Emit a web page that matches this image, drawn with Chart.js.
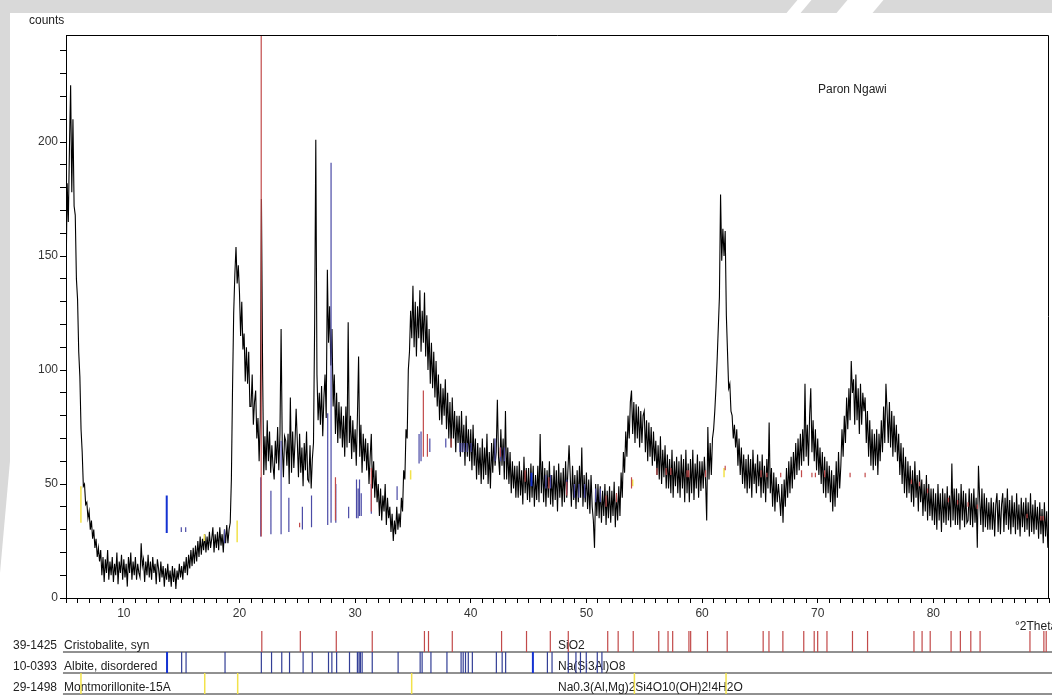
<!DOCTYPE html>
<html>
<head>
<meta charset="utf-8">
<script src="https://cdn.jsdelivr.net/npm/chart.js@4.4.1/dist/chart.umd.min.js"></script>
<style>
  html, body { margin: 0; padding: 0; background: #fff; }
  body { width: 1052px; height: 695px; position: relative; overflow: hidden; }
  .wm { position: absolute; background: #d9d9d9; }
  #wmTop { left: 0; top: 0; width: 1052px; height: 13px; }
  #wmLeft { left: 0; top: 13px; width: 10px; height: 560px; clip-path: polygon(0 0, 100% 0, 100% 80%, 0 100%); }
  .wmCut { position: absolute; top: 0; height: 13px; background: #fff; transform: skewX(-40deg); }
  #main { position: absolute; left: 0; top: 0; }
  #lanes { position: absolute; left: 0; top: 620px; }
</style>
</head>
<body>
<div class="wm" id="wmTop"></div>
<div class="wmCut" style="left:792px;width:14px"></div>
<div class="wmCut" style="left:842px;width:36px"></div>
<div class="wm" id="wmLeft"></div>
<canvas id="main" width="1052" height="622"></canvas>
<canvas id="lanes" width="1052" height="75"></canvas>
<script>
// XRD pattern, sample Paron Ngawi, 2theta 5..90 every 0.1 deg (one row per degree)
const sampleName = 'Paron Ngawi';
const START_2THETA = 5;
const STEP_2THETA = 0.1;
const counts = [
  138,182,165,198,225,178,210,172,168,140,
  131,108,97,74,64,49,50,41,42,35,
  38,30,34,26,30,22,26,18,22,16,
  21,10,18,7,17,11,21,8,16,10,
  18,7,15,10,20,6,16,11,19,8,
  17,9,15,5,18,11,20,8,16,10,
  18,8,15,11,9,24,14,17,7,16,
  10,19,9,16,8,18,11,15,6,17,
  13,7,16,9,14,5,13,8,15,7,
  12,5,14,7,13,4,12,8,15,9,
  14,8,16,11,18,10,19,13,21,14,
  22,15,23,16,25,18,27,19,26,21,
  28,20,27,21,29,22,26,31,20,28,
  22,29,21,31,23,28,20,30,24,32,
  24,30,33,52,92,125,142,154,138,146,
  134,115,130,109,116,95,110,94,108,84,
  84,98,76,86,91,70,79,60,78,175,
  100,54,71,56,78,60,73,55,67,58,
  52,69,59,75,56,72,118,67,53,71,
  69,58,72,50,88,55,73,57,68,83,
  69,53,72,55,66,49,68,56,73,52,
  51,67,48,61,68,120,201,98,78,90,
  76,93,71,88,98,79,144,112,128,102,
  118,84,98,72,90,68,86,70,84,66,
  80,62,84,66,121,68,80,61,78,64,
  74,58,80,106,62,76,55,72,60,70,
  56,68,50,62,72,48,60,44,56,42,
  50,36,48,34,45,38,50,32,44,35,
  40,29,37,25,34,28,40,30,37,31,
  44,38,56,52,74,70,100,108,126,114,
  137,110,130,106,128,114,135,108,126,112,
  134,106,124,100,118,94,112,92,108,88,
  104,84,98,78,94,76,92,80,96,74,
  90,70,86,66,88,70,82,64,80,68,
  80,62,82,64,76,58,80,62,74,60,
  74,56,76,58,70,52,68,54,66,50,
  70,52,66,54,72,50,64,48,68,55,
  70,58,64,87,62,54,74,58,70,52,
  82,52,66,50,64,46,60,48,58,44,
  58,44,60,45,56,41,62,46,57,43,
  57,42,59,44,58,40,54,43,58,42,
  72,46,60,42,57,40,56,44,60,41,
  54,40,58,43,56,38,59,44,55,40,
  57,42,60,44,56,67,54,40,58,43,
  54,39,56,42,58,44,66,40,54,42,
  55,39,52,37,54,40,34,22,50,36,
  50,35,49,33,47,36,50,32,47,35,
  49,33,47,36,51,31,46,34,49,36,
  55,44,64,55,73,62,80,70,86,91,
  72,86,68,85,70,84,66,82,68,80,
  82,64,78,60,77,62,75,58,73,60,
  69,54,67,52,71,50,65,53,67,48,
  63,48,61,46,65,44,60,49,62,46,
  60,44,63,48,61,42,65,46,59,42,
  61,46,65,43,59,48,63,44,60,47,
  60,48,62,52,34,75,52,68,54,70,
  74,82,92,104,118,132,177,148,162,150,
  161,124,108,92,94,82,80,70,76,66,
  74,58,70,54,66,50,63,48,61,46,
  63,48,61,44,65,50,59,46,63,49,
  60,44,63,46,58,42,61,48,77,46,
  57,40,55,38,53,42,50,44,36,50,
  33,52,40,57,44,60,46,62,48,64,
  52,68,54,70,56,72,58,74,60,94,
  62,76,58,80,92,64,78,60,74,56,
  70,54,66,50,64,46,62,44,60,46,
  58,42,56,38,54,40,60,44,64,48,
  58,74,62,80,68,88,74,92,78,104,
  90,96,76,98,78,92,72,94,76,90,
  82,88,68,82,62,78,58,74,56,72,
  58,74,54,72,60,78,64,84,68,94,
  82,68,86,66,82,62,80,64,76,60,
  72,54,68,50,66,46,62,44,60,46,
  58,42,56,40,60,44,54,38,56,42,
  52,36,50,38,54,34,50,36,48,34,
  48,32,46,30,50,34,46,29,48,33,
  46,32,49,34,45,31,59,34,48,32,
  48,32,46,30,50,34,47,31,46,33,
  34,48,32,46,31,48,33,44,22,58,
  44,32,48,29,46,31,44,30,42,30,
  44,30,42,27,41,46,29,43,28,41,
  46,29,44,32,48,30,43,28,45,31,
  42,28,46,30,41,27,44,31,42,29,
  44,30,42,27,46,29,41,28,43,30,
  40,26,42,28,39,24,42,27,38,22,
  32
];

// reference patterns: stick positions (2theta) and their extent in the main plot (counts)
const cristobalitePos = [21.88, 25.2, 28.3, 31.4, 35.9, 36.25, 38.3, 42.55, 44.7, 46.75,
  48.3, 51.7, 52.6, 53.9, 56.1, 56.9, 57.3, 58.7, 58.85, 60.3,
  62.0, 65.1, 65.6, 66.8, 68.6, 69.5, 69.8, 70.6, 72.8, 74.1,
  78.1, 78.8, 79.5, 81.3, 82.1, 83.0, 83.8, 88.1, 89.3, 89.5];
const cristobaliteLow = [27, 31, 34, 38, 62, 62, 66, 62, 51, 48,
  45, 40, 42, 48, 54, 54, 54, 53, 53, 53,
  56, 53, 53, 53, 53, 53, 53, 53, 53, 53,
  50, 49, 46, 42, 41, 40, 39, 35, 34, 34];
const cristobaliteHigh = [260, 33, 53, 57, 91, 72, 70, 66, 56, 53,
  51, 45, 46, 53, 57, 57, 57, 56, 56, 56,
  58, 56, 55, 55, 56, 55, 55, 56, 55, 55,
  52, 51, 48, 44, 43, 42, 41, 37, 36, 36];

const albitePos = [14.97, 15.35, 18.71, 21.84, 22.72, 23.6, 24.27, 25.44, 26.23, 27.63,
  27.92, 28.33, 29.44, 30.12, 30.26, 30.38, 30.53, 31.4, 33.63, 35.53,
  35.7, 36.46, 37.84, 39.06, 39.24, 39.44, 39.68, 40.03, 42.1, 42.6,
  42.9, 46.5, 46.9, 48.3, 48.96, 49.35, 49.85, 50.8, 51.2];
const albiteLow = [29, 29, 24, 27, 28, 28, 29, 30, 31, 32,
  33, 33, 35, 35, 35, 36, 36, 37, 43, 59,
  60, 64, 66, 64, 64, 64, 64, 64, 60, 60,
  60, 48, 48, 46, 44, 44, 44, 42, 42];
const albiteHigh = [31, 31, 30, 53, 47, 69, 44, 40, 45, 81,
  191, 50, 40, 52, 48, 52, 46, 50, 49, 72,
  73, 70, 70, 68, 68, 68, 68, 68, 70, 66,
  66, 54, 54, 52, 50, 50, 50, 48, 48];
const albiteStrongPos = [13.71, 45.25];
const albiteStrongLow = [28.5, 49];
const albiteStrongHigh = [45, 55];

const montmorillonitePos = [6.29, 16.96, 19.8, 34.8, 54.0, 61.9];
const montmorilloniteLow = [33, 25, 24.5, 52, 49, 53];
const montmorilloniteHigh = [49, 28, 34, 56, 52, 57];

const xLabels = [10, 20, 30, 40, 50, 60, 70, 80];
const yLabels = [0, 50, 100, 150, 200];

const laneCodes = ['39-1425', '10-0393', '29-1498'];
const laneNames = ['Cristobalite, syn', 'Albite, disordered', 'Montmorillonite-15A'];
const laneFormulas = ['SiO2', 'Na(Si3Al)O8', 'Na0.3(Al,Mg)2Si4O10(OH)2!4H2O'];
const laneBase = [2, 1, 0];

const FONT = '"Liberation Sans", Arial, sans-serif';
const RED = '#c24a4a', BLUE = '#4b4ba6', BLUE_DARK = '#333f96', BLUE_STRONG = '#1432d2', YELLOW = '#f2e24a';

const pattern = counts.map((c, i) => ({ x: +(START_2THETA + STEP_2THETA * i).toFixed(1), y: c }));

function sticks(pos, low, high) {
  const pts = [];
  pos.forEach((p, i) => pts.push({ x: p, y: low[i] }, { x: p, y: high[i] }, { x: p, y: null }));
  return pts;
}

function laneSticks(pos, base) {
  return sticks(pos, pos.map(() => base), pos.map(() => base + 1));
}

function lineSet(data, color, width, order, extra) {
  return Object.assign({ data, borderColor: color, borderWidth: width, pointRadius: 0, order, spanGaps: false }, extra || {});
}

const mainDecor = {
  id: 'mainDecor',
  afterDraw(chart) {
    const { ctx, chartArea: a } = chart;
    ctx.save();
    ctx.strokeStyle = '#000';
    ctx.lineWidth = 1;
    ctx.beginPath();
    ctx.moveTo(a.left, a.top + 0.5);
    ctx.lineTo(a.right - 0.5, a.top + 0.5);
    ctx.lineTo(a.right - 0.5, a.bottom);
    ctx.stroke();
    ctx.fillStyle = '#222';
    ctx.font = '12px ' + FONT;
    ctx.textBaseline = 'middle';
    ctx.fillText('counts', 29, 21);
    ctx.fillText(sampleName, 818, 90);
    ctx.restore();
  }
};

new Chart(document.getElementById('main'), {
  type: 'line',
  data: {
    datasets: [
      lineSet(pattern, '#000', 1.1, 10),
      lineSet(sticks(cristobalitePos, cristobaliteLow, cristobaliteHigh), RED, 1.2, 2),
      lineSet(sticks(albitePos, albiteLow, albiteHigh), BLUE, 1.2, 3),
      lineSet(sticks(albiteStrongPos, albiteStrongLow, albiteStrongHigh), BLUE_STRONG, 2, 3),
      lineSet(sticks(montmorillonitePos, montmorilloniteLow, montmorilloniteHigh), YELLOW, 1.5, 4)
    ]
  },
  options: {
    responsive: false,
    animation: false,
    events: [],
    layout: { padding: { left: 0, right: 0, top: 35, bottom: 0 } },
    plugins: { legend: { display: false }, tooltip: { enabled: false } },
    scales: {
      x: {
        type: 'linear', min: 5, max: 90,
        afterFit: s => { s.height = 24; },
        border: { color: '#000', width: 1 },
        grid: { drawOnChartArea: false, tickLength: 5, color: '#000' },
        ticks: {
          stepSize: 1, autoSkip: false, maxRotation: 0, includeBounds: false, padding: 3,
          color: '#333', font: { family: FONT, size: 12 },
          callback: v => xLabels.includes(v) ? String(v) : ''
        }
      },
      y: {
        min: 0, max: 247,
        afterFit: s => { s.width = 66; },
        border: { color: '#000', width: 1 },
        grid: { drawOnChartArea: false, tickLength: 6, color: '#000' },
        ticks: {
          stepSize: 10, autoSkip: false, includeBounds: false, padding: 2,
          color: '#333', font: { family: FONT, size: 12 },
          callback: v => yLabels.includes(v) ? String(v) : ''
        }
      }
    }
  },
  plugins: [mainDecor]
});

const laneDecor = {
  id: 'laneDecor',
  beforeDatasetsDraw(chart) {
    const { ctx } = chart;
    const y = chart.scales.y;
    ctx.save();
    ctx.fillStyle = '#222';
    ctx.font = '12px ' + FONT;
    ctx.textBaseline = 'alphabetic';
    laneBase.forEach((b, i) => {
      const py = y.getPixelForValue(b) - 3;
      ctx.fillText(laneCodes[i], 13, py);
      ctx.fillText(laneNames[i], 64, py);
      ctx.fillText(laneFormulas[i], 558, py);
    });
    ctx.fillText('°2Theta', 1015, 10);
    ctx.restore();
  }
};

const laneLines = [];
laneBase.forEach(b => laneLines.push({ x: 4.74, y: b }, { x: 90.1, y: b }, { x: 90.1, y: null }));

new Chart(document.getElementById('lanes'), {
  type: 'line',
  data: {
    datasets: [
      lineSet(laneSticks(cristobalitePos, laneBase[0]), RED, 1.2, 2),
      lineSet(laneSticks(albitePos, laneBase[1]), BLUE_DARK, 1.2, 2),
      lineSet(laneSticks(albiteStrongPos, laneBase[1]), BLUE_STRONG, 2, 2),
      lineSet(laneSticks(montmorillonitePos, laneBase[2]), YELLOW, 1.5, 2),
      lineSet(laneLines, '#222', 1, 5, { clip: false })
    ]
  },
  options: {
    responsive: false,
    animation: false,
    events: [],
    layout: { padding: { left: 66, right: 0, top: 11, bottom: 1 } },
    plugins: { legend: { display: false }, tooltip: { enabled: false } },
    scales: {
      x: { type: 'linear', min: 5, max: 90, display: false },
      y: { min: 0, max: 3, display: false }
    }
  },
  plugins: [laneDecor]
});
</script>
</body>
</html>
